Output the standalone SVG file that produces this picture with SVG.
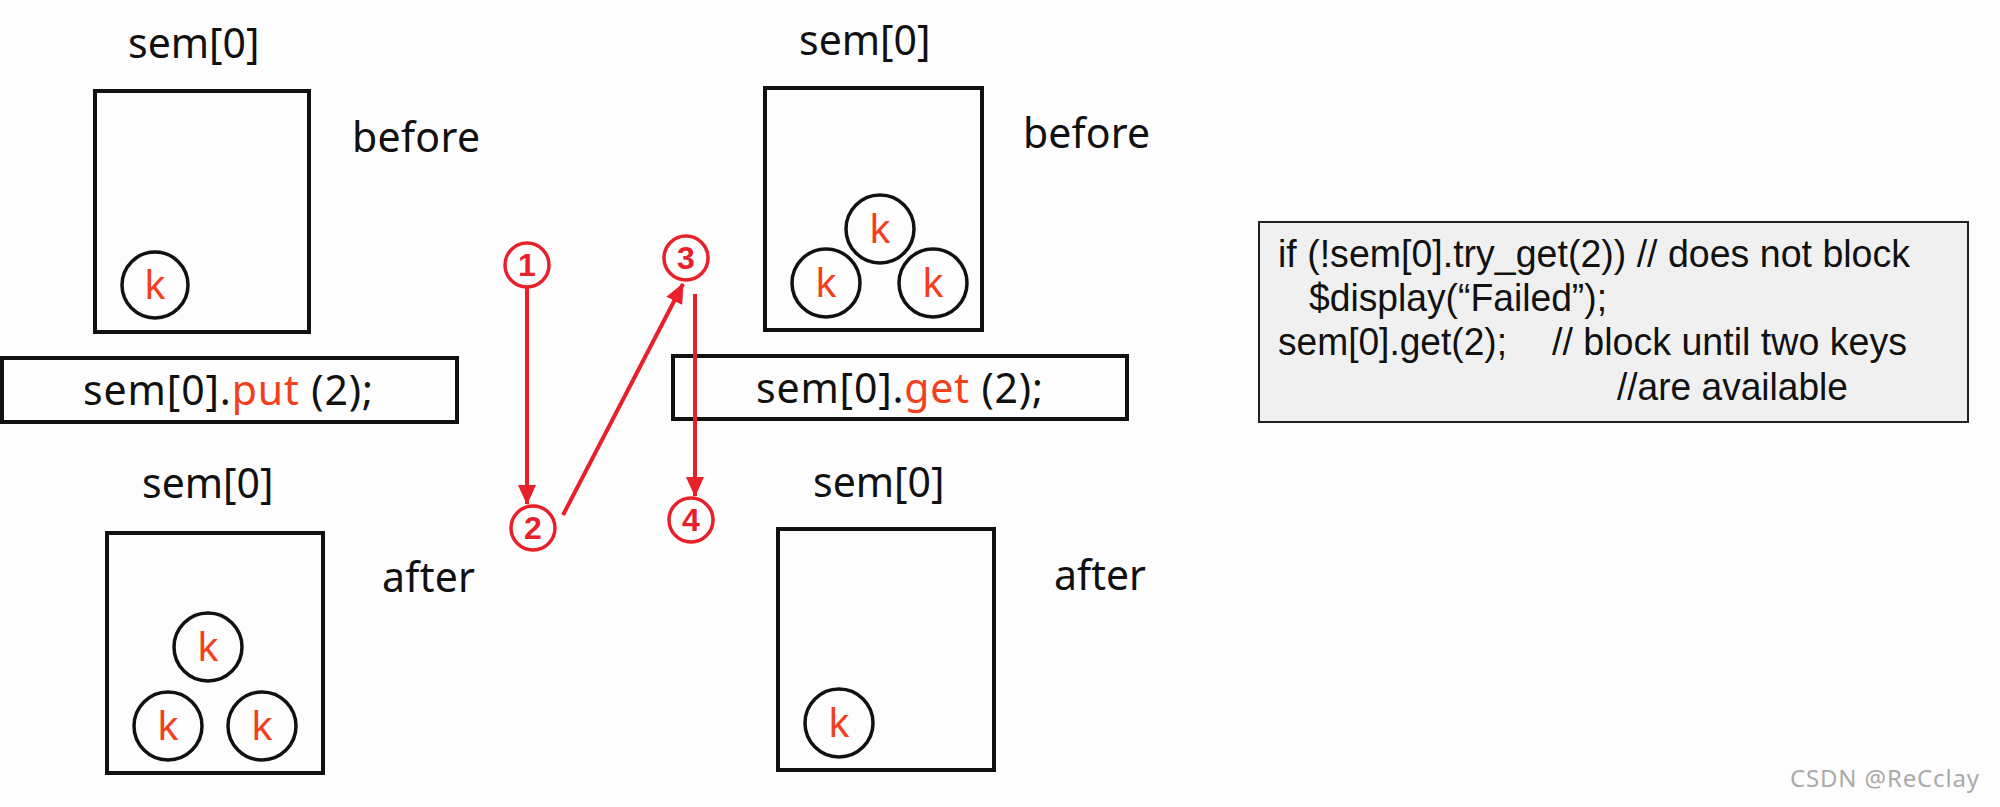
<svg xmlns="http://www.w3.org/2000/svg" width="2000" height="807" viewBox="0 0 2000 807">
<defs>
<style>
.lbl{font-family:"Noto Sans","Open Sans",sans-serif;font-size:41px;fill:#111}
.k{font-family:"Noto Sans","Open Sans",sans-serif;font-size:40px;fill:#f2401c}
.red{fill:#f2401c}
.box{fill:none;stroke:#111;stroke-width:4}
.kc{fill:none;stroke:#111;stroke-width:3.5}
.code{font-family:"Liberation Sans",Arial,sans-serif;font-size:39px;fill:#111}
.num{font-family:"Liberation Sans",Arial,sans-serif;font-size:32px;font-weight:bold;fill:#e8202a}
.nc{fill:none;stroke:#e8202a;stroke-width:3.5}
.arr{stroke:#e8202a;stroke-width:4;fill:none}
</style>
<marker id="ah" markerUnits="userSpaceOnUse" markerWidth="20" markerHeight="18" refX="19" refY="9" orient="auto">
<path d="M0,0 L20,9 L0,18 Z" fill="#e8202a"/>
</marker>
</defs>
<rect width="2000" height="807" fill="#fdfdfd"/>

<g id="put-before">
<text class="lbl" x="128" y="58">sem[0]</text>
<rect class="box" x="95" y="91" width="214" height="241"/>
<text class="lbl" x="352" y="152" textLength="128">before</text>
<circle class="kc" cx="155" cy="285" r="33"/>
<text class="k" x="155" y="299" text-anchor="middle">k</text>
</g>

<g id="put-stmt">
<rect class="box" x="2" y="358" width="455" height="64"/>
<text class="lbl" x="83" y="405" textLength="290" lengthAdjust="spacing">sem[0].<tspan class="red">put</tspan> (2);</text>
</g>

<g id="put-after">
<text class="lbl" x="142" y="498">sem[0]</text>
<rect class="box" x="107" y="533" width="216" height="240"/>
<text class="lbl" x="382" y="592" textLength="93">after</text>
<circle class="kc" cx="208" cy="647" r="34"/>
<text class="k" x="208" y="661" text-anchor="middle">k</text>
<circle class="kc" cx="168" cy="726" r="34"/>
<text class="k" x="168" y="740" text-anchor="middle">k</text>
<circle class="kc" cx="262" cy="726" r="34"/>
<text class="k" x="262" y="740" text-anchor="middle">k</text>
</g>

<g id="get-before">
<text class="lbl" x="799" y="55">sem[0]</text>
<rect class="box" x="765" y="88" width="217" height="242"/>
<text class="lbl" x="1023" y="148" textLength="127">before</text>
<circle class="kc" cx="880" cy="229" r="34"/>
<text class="k" x="880" y="243" text-anchor="middle">k</text>
<circle class="kc" cx="826" cy="283" r="34"/>
<text class="k" x="826" y="297" text-anchor="middle">k</text>
<circle class="kc" cx="933" cy="283" r="34"/>
<text class="k" x="933" y="297" text-anchor="middle">k</text>
</g>

<g id="get-stmt">
<rect class="box" x="673" y="356" width="454" height="63"/>
<text class="lbl" x="756" y="403" textLength="287" lengthAdjust="spacing">sem[0].<tspan class="red">get</tspan> (2);</text>
</g>

<g id="get-after">
<text class="lbl" x="813" y="497">sem[0]</text>
<rect class="box" x="778" y="529" width="216" height="241"/>
<text class="lbl" x="1054" y="590" textLength="92">after</text>
<circle class="kc" cx="839" cy="723" r="34"/>
<text class="k" x="839" y="737" text-anchor="middle">k</text>
</g>

<g id="step1"><circle class="nc" cx="527" cy="265" r="22"/><text class="num" x="527" y="276" text-anchor="middle">1</text></g>
<g id="step2"><circle class="nc" cx="533" cy="528" r="22"/><text class="num" x="533" y="539" text-anchor="middle">2</text></g>
<g id="step3"><circle class="nc" cx="686" cy="258" r="22"/><text class="num" x="686" y="269" text-anchor="middle">3</text></g>
<g id="step4"><circle class="nc" cx="691" cy="520" r="22"/><text class="num" x="691" y="531" text-anchor="middle">4</text></g>

<g id="connectors">
<line class="arr" x1="527" y1="288" x2="527" y2="504" marker-end="url(#ah)"/>
<line class="arr" x1="563" y1="515" x2="683" y2="284" marker-end="url(#ah)"/>
<line class="arr" x1="695" y1="294" x2="695" y2="496" marker-end="url(#ah)"/>
</g>

<g id="code">
<rect x="1259" y="222" width="709" height="200" fill="#f0f0f0" stroke="#222" stroke-width="2"/>
<text class="code" x="1278" y="267" textLength="632" lengthAdjust="spacingAndGlyphs">if (!sem[0].try_get(2)) // does not block</text>
<text class="code" x="1309" y="311" textLength="298" lengthAdjust="spacingAndGlyphs">$display(“Failed”);</text>
<text class="code" x="1278" y="355" textLength="229" lengthAdjust="spacingAndGlyphs">sem[0].get(2);</text>
<text class="code" x="1552" y="355" textLength="355" lengthAdjust="spacingAndGlyphs">// block until two keys</text>
<text class="code" x="1617" y="400" textLength="231" lengthAdjust="spacingAndGlyphs">//are available</text>
</g>

<text x="1790" y="787" font-family="Noto Sans, Open Sans, sans-serif" font-size="24" fill="#aaa" textLength="189">CSDN @ReCclay</text>
</svg>
